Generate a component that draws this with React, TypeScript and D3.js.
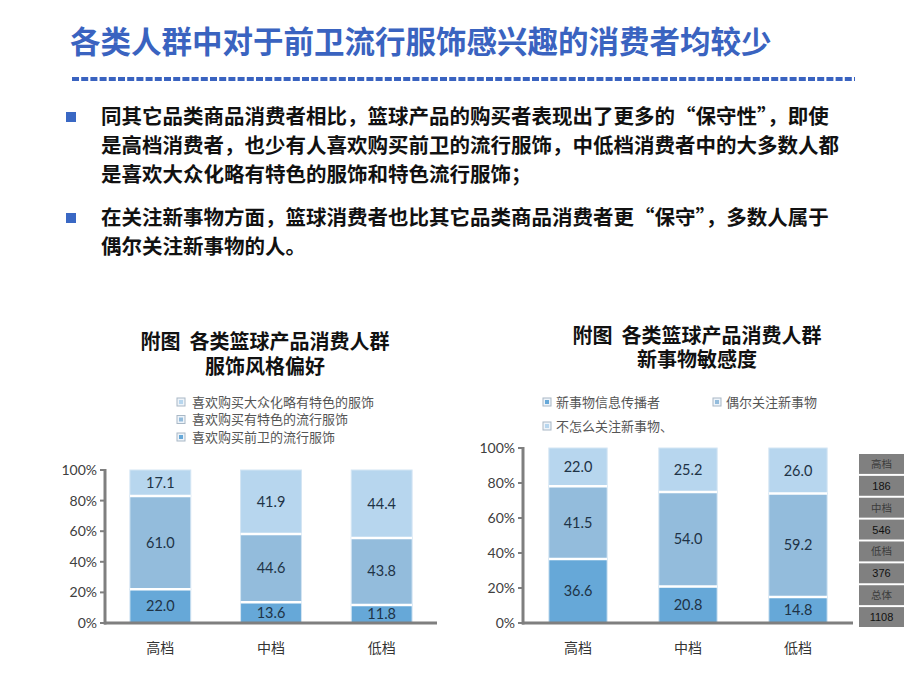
import React, { useEffect, useRef } from 'react';
import * as d3 from 'd3';

const pageTitle = '各类人群中对于前卫流行服饰感兴趣的消费者均较少';
const bulletLines1 = [
  '同其它品类商品消费者相比，篮球产品的购买者表现出了更多的“保守性”，即使',
  '是高档消费者，也少有人喜欢购买前卫的流行服饰，中低档消费者中的大多数人都',
  '是喜欢大众化略有特色的服饰和特色流行服饰；',
];
const bulletLines2 = [
  '在关注新事物方面，篮球消费者也比其它品类商品消费者更“保守”，多数人属于',
  '偶尔关注新事物的人。',
];

const categories = ['高档', '中档', '低档'];
const yTicks = [0, 20, 40, 60, 80, 100];

// Chart 1: clothing style preference (bottom -> top)
const styleKeys = ['avant', 'feature', 'mass'];
const styleNames = ['喜欢购买前卫的流行服饰', '喜欢购买有特色的流行服饰', '喜欢购买大众化略有特色的服饰'];
const styleAvant = [22.0, 13.6, 11.8];
const styleFeature = [61.0, 44.6, 43.8];
const styleMass = [17.1, 41.9, 44.4];
const chart1Title = ['附图\u00a0\u00a0各类篮球产品消费人群', '服饰风格偏好'];

// Chart 2: sensitivity to new things (bottom -> top)
const newsKeys = ['spread', 'occasional', 'ignore'];
const newsNames = ['新事物信息传播者', '偶尔关注新事物', '不怎么关注新事物、'];
const newsSpread = [36.6, 20.8, 14.8];
const newsOccasional = [41.5, 54.0, 59.2];
const newsIgnore = [22.0, 25.2, 26.0];
const chart2Title = ['附图\u00a0\u00a0各类篮球产品消费人群', '新事物敏感度'];

const sampleLabels = ['高档', '186', '中档', '546', '低档', '376', '总体', '1108'];

const segColors = ['#66a8d8', '#93bcdc', '#b7d6ee'];
const BLUE = '#3a63c0';
const CJK = '"Noto Sans CJK SC", "Noto Sans", sans-serif';
const NUM = 'Lato, "Noto Sans", sans-serif';

type ChartOpts = {
  rows: Record<string, number | string>[];
  keys: string[];
  left: number; right: number; top: number; bottom: number;
  padding: number;
};

function drawChart(g: d3.Selection<SVGGElement, unknown, null, undefined>, o: ChartOpts) {
  const x = d3.scaleBand<string>().domain(categories).range([o.left, o.right]).paddingInner(o.padding).paddingOuter(o.padding / 2);
  const y = d3.scaleLinear().domain([0, 100]).range([o.bottom, o.top]);
  const stack = d3.stack<Record<string, number | string>>().keys(o.keys);
  const series = stack(o.rows);

  series.forEach((s, si) => {
    g.selectAll(null)
      .data(s)
      .enter()
      .append('rect')
      .attr('x', (d) => x(d.data.cat as string)!)
      .attr('width', x.bandwidth())
      .attr('y', (d) => y(Math.min(d[1], 100)))
      .attr('height', (d) => y(d[0]) - y(Math.min(d[1], 100)))
      .attr('fill', segColors[si])
      .attr('stroke', '#d4e5f3')
      .attr('stroke-width', 1);
  });
  series.slice(0, -1).forEach((s) => {
    g.selectAll(null)
      .data(s)
      .enter()
      .append('line')
      .attr('x1', (d) => x(d.data.cat as string)!)
      .attr('x2', (d) => x(d.data.cat as string)! + x.bandwidth())
      .attr('y1', (d) => y(d[1]))
      .attr('y2', (d) => y(d[1]))
      .attr('stroke', '#ffffff')
      .attr('stroke-width', 2.5);
  });
  series.forEach((s) => {
    g.selectAll(null)
      .data(s)
      .enter()
      .append('text')
      .attr('x', (d) => x(d.data.cat as string)! + x.bandwidth() / 2)
      .attr('y', (d) => (y(d[0]) + y(Math.min(d[1], 100))) / 2 + 5)
      .attr('text-anchor', 'middle')
      .attr('font-family', NUM)
      .attr('font-size', 14.5)
      .attr('fill', '#1e3346')
      .text((d) => (d[1] - d[0]).toFixed(1));
  });

  g.append('line')
    .attr('x1', o.left).attr('x2', o.left)
    .attr('y1', o.top - 1).attr('y2', o.bottom + 1.5)
    .attr('stroke', '#7f7f7f').attr('stroke-width', 3);
  g.append('line')
    .attr('x1', o.left - 1).attr('x2', o.right)
    .attr('y1', o.bottom).attr('y2', o.bottom)
    .attr('stroke', '#7f7f7f').attr('stroke-width', 3);
  g.selectAll(null)
    .data(yTicks)
    .enter()
    .append('line')
    .attr('x1', o.left - 5).attr('x2', o.left)
    .attr('y1', (d) => y(d)).attr('y2', (d) => y(d))
    .attr('stroke', '#7f7f7f').attr('stroke-width', 2);
  g.selectAll(null)
    .data(yTicks)
    .enter()
    .append('text')
    .attr('x', o.left - 8)
    .attr('y', (d) => y(d) + 5)
    .attr('text-anchor', 'end')
    .attr('font-family', NUM)
    .attr('font-size', 14)
    .attr('fill', '#404040')
    .text((d) => d + '%');
  g.selectAll(null)
    .data(categories)
    .enter()
    .append('text')
    .attr('x', (d) => x(d)! + x.bandwidth() / 2)
    .attr('y', o.bottom + 30)
    .attr('text-anchor', 'middle')
    .attr('font-family', CJK)
    .attr('font-size', 14)
    .attr('fill', '#333333')
    .text((d) => d);
}

function legendSquare(g: d3.Selection<SVGGElement, unknown, null, undefined>, xx: number, yy: number, color: string) {
  g.append('rect').attr('x', xx).attr('y', yy - 4).attr('width', 8).attr('height', 8)
    .attr('fill', '#eef4fa').attr('stroke', '#a9b8c6').attr('stroke-width', 1);
  g.append('rect').attr('x', xx + 2).attr('y', yy - 2).attr('width', 4).attr('height', 4).attr('fill', color);
}

function chartTitle(g: d3.Selection<SVGGElement, unknown, null, undefined>, lines: string[], cx: number, y0: number, gap: number) {
  const t = g.append('text').attr('text-anchor', 'middle')
    .attr('font-family', CJK).attr('font-weight', 'bold').attr('font-size', 20)
    .attr('fill', '#111111');
  lines.forEach((l, i) => {
    t.append('tspan').attr('x', cx).attr('y', y0 + i * gap).text(l);
  });
}

export default function App() {
  const ref = useRef<SVGSVGElement>(null);

  useEffect(() => {
    const svg = d3.select(ref.current!);
    svg.selectAll('*').remove();
    const root = svg.append('g');

    root.append('text').attr('x', 70).attr('y', 53)
      .attr('font-family', CJK).attr('font-weight', 'bold').attr('font-size', 30.5)
      .attr('fill', BLUE).text(pageTitle);
    root.append('line').attr('x1', 72).attr('x2', 855).attr('y1', 79).attr('y2', 79)
      .attr('stroke', BLUE).attr('stroke-width', 4).attr('stroke-dasharray', '7,2.2');

    const drawBullet = (lines: string[], startY: number) => {
      root.append('rect').attr('x', 66).attr('y', startY - 12).attr('width', 10).attr('height', 10).attr('fill', '#3a68c4');
      lines.forEach((l, i) => {
        root.append('text').attr('x', 101).attr('y', startY + i * 29)
          .attr('font-family', CJK).attr('font-weight', 'bold').attr('font-size', 20.5)
          .attr('fill', '#111111').text(l);
      });
    };
    drawBullet(bulletLines1, 124);
    drawBullet(bulletLines2, 225);

    const c1 = root.append('g');
    chartTitle(c1, chart1Title, 265, 349, 25);
    const legend1Order = [2, 1, 0];
    legend1Order.forEach((si, i) => {
      legendSquare(c1, 177, 402 + i * 17.5, segColors[si]);
      c1.append('text').attr('x', 192).attr('y', 402 + i * 17.5 + 4.5)
        .attr('font-family', CJK).attr('font-size', 13).attr('fill', '#555555').text(styleNames[si]);
    });
    const rows1 = categories.map((c, i) => ({ cat: c, avant: styleAvant[i], feature: styleFeature[i], mass: styleMass[i] }));
    drawChart(c1, { rows: rows1, keys: styleKeys, left: 105, right: 437, top: 470, bottom: 623, padding: 0.45 });

    const c2 = root.append('g');
    chartTitle(c2, chart2Title, 697, 343, 24);
    const legend2Pos = [[543, 402], [713, 402], [543, 426]];
    [0, 1, 2].forEach((si, i) => {
      const [lx, ly] = legend2Pos[i];
      legendSquare(c2, lx, ly, segColors[si]);
      c2.append('text').attr('x', lx + 13).attr('y', ly + 4.5)
        .attr('font-family', CJK).attr('font-size', 13).attr('fill', '#555555').text(newsNames[si]);
    });
    const rows2 = categories.map((c, i) => ({ cat: c, spread: newsSpread[i], occasional: newsOccasional[i], ignore: newsIgnore[i] }));
    drawChart(c2, { rows: rows2, keys: newsKeys, left: 523, right: 853, top: 448, bottom: 623, padding: 0.47 });

    const ty = d3.scaleBand<number>().domain(d3.range(sampleLabels.length)).range([454, 627]).paddingInner(0.09);
    const tg = root.append('g');
    tg.selectAll(null).data(sampleLabels).enter().append('rect')
      .attr('x', 859).attr('width', 45)
      .attr('y', (_, i) => ty(i)!).attr('height', ty.bandwidth())
      .attr('fill', '#808080');
    tg.selectAll(null).data(sampleLabels).enter().append('text')
      .attr('x', 881.5).attr('y', (_, i) => ty(i)! + ty.bandwidth() / 2 + 4)
      .attr('text-anchor', 'middle')
      .attr('font-family', (_, i) => (i % 2 === 0 ? CJK : '"Liberation Sans", Arial, sans-serif'))
      .attr('font-size', (_, i) => (i % 2 === 0 ? 10.5 : 11))
      .attr('fill', (_, i) => (i % 2 === 0 ? '#3c3c3c' : '#111111'))
      .text((d) => d);
  }, []);

  return (
    <svg ref={ref} width={920} height={690} style={{ position: 'absolute', left: 0, top: 0, background: '#ffffff' }} />
  );
}
